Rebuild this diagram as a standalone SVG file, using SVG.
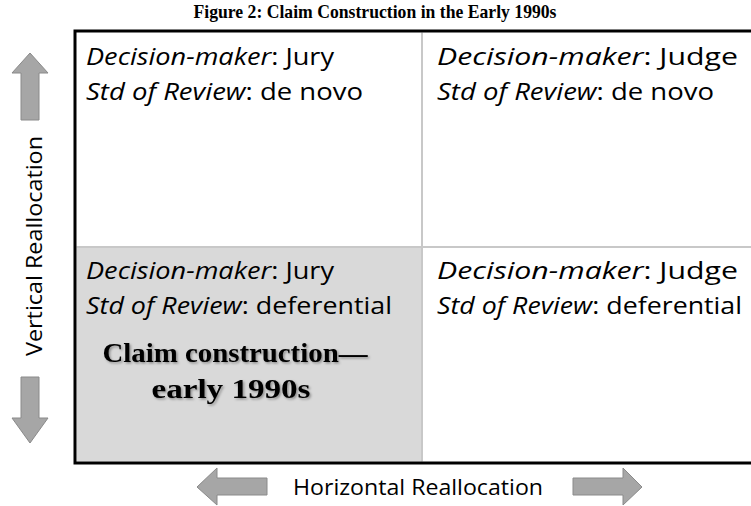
<svg xmlns="http://www.w3.org/2000/svg" width="751" height="506" viewBox="0 0 751 506">
  <defs>
    <style>
      .title { font-family: "Liberation Serif", serif; font-weight: bold; font-size: 19px; fill: #000; }
      .cell { font-family: "Open Sans", "Liberation Sans", sans-serif; font-size: 23px; fill: #000; }
      .it { font-style: italic; }
      .big { font-family: "Liberation Serif", serif; font-weight: bold; font-size: 28px; fill: #000; }
      .axis { font-family: "Open Sans", "Liberation Sans", sans-serif; font-size: 22px; fill: #000; }
      .arrow { fill: #a6a6a6; stroke: #8a8a8a; stroke-width: 1; }
      .divider { stroke: #c8c8c8; stroke-width: 2; fill: none; }
    </style>
    <filter id="shadow" x="-10%" y="-30%" width="120%" height="160%">
      <feDropShadow dx="1.5" dy="1.5" stdDeviation="1" flood-color="#000" flood-opacity="0.35"/>
    </filter>
  </defs>
  <rect width="751" height="506" fill="#fff"/>
  <text class="title" x="375" y="18" text-anchor="middle" textLength="363" lengthAdjust="spacingAndGlyphs">Figure 2: Claim Construction in the Early 1990s</text>

  <g id="grid">
    <rect id="shaded" x="76.5" y="248" width="345.5" height="213.5" fill="#d9d9d9"/>
    <line class="divider" x1="422" y1="32.5" x2="422" y2="461.5"/>
    <line class="divider" x1="76.5" y1="247" x2="751" y2="247"/>
    <rect x="75" y="31" width="700" height="432" fill="none" stroke="#000" stroke-width="3"/>
  </g>

  <g id="cell-top-left">
    <text class="cell" x="86" y="65" textLength="248" lengthAdjust="spacingAndGlyphs"><tspan class="it">Decision-maker</tspan>: Jury</text>
    <text class="cell" x="86" y="100" textLength="277" lengthAdjust="spacingAndGlyphs"><tspan class="it">Std of Review</tspan>: de novo</text>
  </g>
  <g id="cell-top-right">
    <text class="cell" x="437" y="65" textLength="301" lengthAdjust="spacingAndGlyphs"><tspan class="it">Decision-maker</tspan>: Judge</text>
    <text class="cell" x="437" y="100" textLength="277" lengthAdjust="spacingAndGlyphs"><tspan class="it">Std of Review</tspan>: de novo</text>
  </g>
  <g id="cell-bottom-left">
    <text class="cell" x="86" y="279" textLength="248" lengthAdjust="spacingAndGlyphs"><tspan class="it">Decision-maker</tspan>: Jury</text>
    <text class="cell" x="86" y="314" textLength="306" lengthAdjust="spacingAndGlyphs"><tspan class="it">Std of Review</tspan>: deferential</text>
    <g filter="url(#shadow)">
      <text class="big" x="235" y="362" text-anchor="middle" textLength="265" lengthAdjust="spacingAndGlyphs">Claim construction—</text>
      <text class="big" x="231" y="398" text-anchor="middle" textLength="159" lengthAdjust="spacingAndGlyphs">early 1990s</text>
    </g>
  </g>
  <g id="cell-bottom-right">
    <text class="cell" x="437" y="279" textLength="301" lengthAdjust="spacingAndGlyphs"><tspan class="it">Decision-maker</tspan>: Judge</text>
    <text class="cell" x="437" y="314" textLength="305" lengthAdjust="spacingAndGlyphs"><tspan class="it">Std of Review</tspan>: deferential</text>
  </g>

  <g id="vertical-axis">
    <polygon class="arrow" points="30,53 48,73 39,73 39,120 21,120 21,73 12,73"/>
    <text class="axis" transform="translate(42,246) rotate(-90)" x="0" y="0" text-anchor="middle" textLength="220" lengthAdjust="spacingAndGlyphs">Vertical Reallocation</text>
    <polygon class="arrow" points="30,443 48,418 39,418 39,377 21,377 21,418 12,418"/>
  </g>

  <g id="horizontal-axis">
    <polygon class="arrow" points="197,487 217,468 217,478 267,478 267,495 217,495 217,505"/>
    <text class="axis" x="418" y="495" text-anchor="middle" textLength="250" lengthAdjust="spacingAndGlyphs">Horizontal Reallocation</text>
    <polygon class="arrow" points="642,487 623,468 623,478 573,478 573,495 623,495 623,505"/>
  </g>
</svg>
